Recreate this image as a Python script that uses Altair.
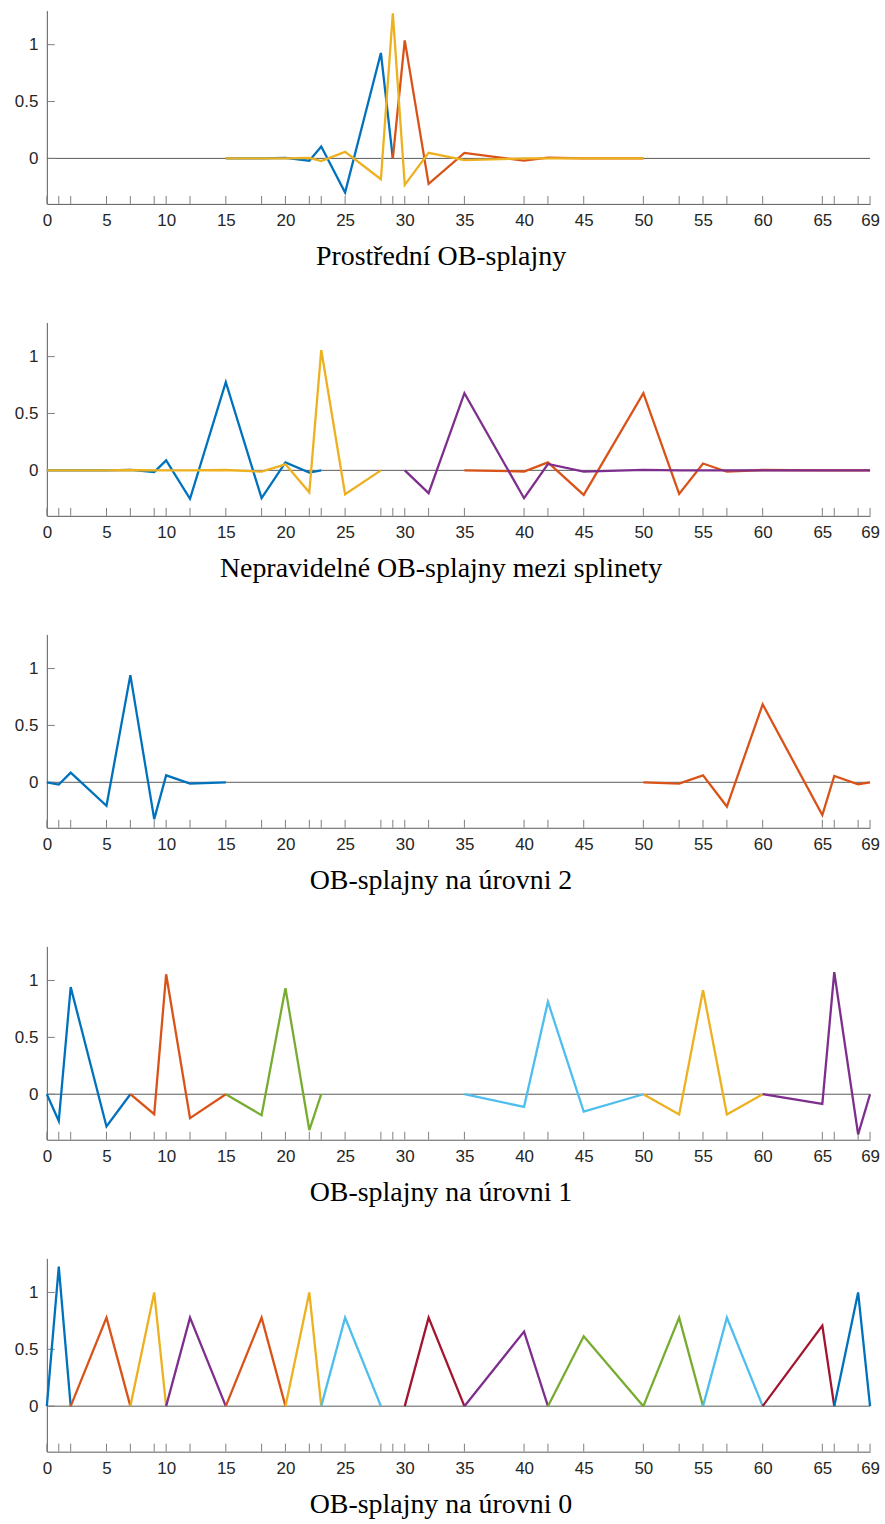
import altair as alt
import pandas as pd

# ---------------- data ----------------
KNOTS = [0, 1, 2, 5, 7, 9, 10, 12, 15, 18, 20, 22, 23, 25, 28, 29, 30, 32, 35,
         40, 42, 45, 50, 53, 55, 57, 60, 65, 66, 68, 69]
X_LABELS = [0, 5, 10, 15, 20, 25, 30, 35, 40, 45, 50, 55, 60, 65, 69]
Y_LABELS = [0, 0.5, 1]

TITLES = [
    "Prostřední OB-splajny",
    "Nepravidelné OB-splajny mezi splinety",
    "OB-splajny na úrovni 2",
    "OB-splajny na úrovni 1",
    "OB-splajny na úrovni 0",
]

COLORS = {
    "blue": "#0072BD", "red": "#D95319", "yellow": "#EDB120", "purple": "#7E2F8E",
    "green": "#77AC30", "lightblue": "#4DBEEE", "darkred": "#A2142F",
}

# panel 1: Prostřední OB-splajny
P1_BLUE_X = [15, 18, 20, 22, 23, 25, 28, 29]
P1_BLUE_Y = [0.0, 0.0, 0.005, -0.02, 0.105, -0.30, 0.927, 0.0]
P1_RED_X = [29, 30, 32, 35, 40, 42, 45, 50]
P1_RED_Y = [0.0, 1.038, -0.224, 0.049, -0.02, 0.006, 0.0, 0.0]
P1_YEL_X = [15, 18, 20, 22, 23, 25, 28, 29, 30, 32, 35, 40, 42, 45, 50]
P1_YEL_Y = [0.0, 0.0, 0.0, 0.005, -0.023, 0.058, -0.183, 1.276, -0.233, 0.049,
            -0.015, 0.0, 0.0, 0.0, 0.0]

# panel 2: Nepravidelné OB-splajny mezi splinety
P2_BLUE_X = [0, 1, 2, 5, 7, 9, 10, 12, 15, 18, 20, 22, 23]
P2_BLUE_Y = [0.0, 0.0, 0.0, 0.0, 0.005, -0.015, 0.088, -0.25, 0.775, -0.245, 0.07, -0.02, 0.0]
P2_RED_X = [35, 40, 42, 45, 50, 53, 55, 57, 60, 65, 66, 68, 69]
P2_RED_Y = [0.0, -0.01, 0.07, -0.216, 0.678, -0.208, 0.06, -0.012, 0.003, 0.0, 0.0, 0.0, 0.0]
P2_YEL_X = [0, 1, 2, 5, 7, 9, 10, 12, 15, 18, 20, 22, 23, 25, 28]
P2_YEL_Y = [0.0, 0.0, 0.0, 0.0, 0.003, 0.0, 0.0, 0.0, 0.003, -0.012, 0.053, -0.193,
            1.058, -0.21, 0.0]
P2_PUR_X = [30, 32, 35, 40, 42, 45, 50, 53, 55, 57, 60, 65, 66, 68, 69]
P2_PUR_Y = [0.0, -0.2, 0.678, -0.245, 0.056, -0.012, 0.005, 0.0, 0.0, 0.0, 0.0, 0.0,
            0.0, 0.0, 0.0]

# panel 3: OB-splajny na úrovni 2
P3_BLUE_X = [0, 1, 2, 5, 7, 9, 10, 12, 15]
P3_BLUE_Y = [0.0, -0.02, 0.085, -0.207, 0.942, -0.324, 0.061, -0.012, 0.0]
P3_RED_X = [50, 53, 55, 57, 60, 65, 66, 68, 69]
P3_RED_Y = [0.0, -0.012, 0.061, -0.213, 0.685, -0.289, 0.055, -0.017, 0.0]

# panel 4: OB-splajny na úrovni 1
P4_BLUE_X = [0, 1, 2, 5, 7]
P4_BLUE_Y = [0.0, -0.236, 0.942, -0.283, 0.0]
P4_RED_X = [7, 9, 10, 12, 15]
P4_RED_Y = [0.0, -0.175, 1.055, -0.21, 0.0]
P4_GREEN_X = [15, 18, 20, 22, 23]
P4_GREEN_Y = [0.0, -0.184, 0.933, -0.315, 0.0]
P4_LBLUE_X = [35, 40, 42, 45, 50]
P4_LBLUE_Y = [0.0, -0.111, 0.813, -0.152, 0.0]
P4_YEL_X = [50, 53, 55, 57, 60]
P4_YEL_Y = [0.0, -0.178, 0.915, -0.178, 0.0]
P4_PUR_X = [60, 65, 66, 68, 69]
P4_PUR_Y = [0.0, -0.085, 1.073, -0.353, 0.0]

# panel 5: OB-splajny na úrovni 0
P5_S1_X, P5_S1_Y = [0, 1, 2], [0.0, 1.227, 0.0]
P5_S2_X, P5_S2_Y = [2, 5, 7], [0.0, 0.778, 0.0]
P5_S3_X, P5_S3_Y = [7, 9, 10], [0.0, 1.0, 0.0]
P5_S4_X, P5_S4_Y = [10, 12, 15], [0.0, 0.778, 0.0]
P5_S5_X, P5_S5_Y = [15, 18, 20], [0.0, 0.778, 0.0]
P5_S6_X, P5_S6_Y = [20, 22, 23], [0.0, 1.0, 0.0]
P5_S7_X, P5_S7_Y = [23, 25, 28], [0.0, 0.778, 0.0]
P5_S8_X, P5_S8_Y = [30, 32, 35], [0.0, 0.778, 0.0]
P5_S9_X, P5_S9_Y = [35, 40, 42], [0.0, 0.656, 0.0]
P5_S10_X, P5_S10_Y = [42, 45, 50], [0.0, 0.615, 0.0]
P5_S11_X, P5_S11_Y = [50, 53, 55], [0.0, 0.778, 0.0]
P5_S12_X, P5_S12_Y = [55, 57, 60], [0.0, 0.778, 0.0]
P5_S13_X, P5_S13_Y = [60, 65, 66], [0.0, 0.708, 0.0]
P5_S14_X, P5_S14_Y = [66, 68, 69], [0.0, 1.0, 0.0]

PANELS = [
    [("blue", P1_BLUE_X, P1_BLUE_Y), ("red", P1_RED_X, P1_RED_Y), ("yellow", P1_YEL_X, P1_YEL_Y)],
    [("blue", P2_BLUE_X, P2_BLUE_Y), ("red", P2_RED_X, P2_RED_Y),
     ("yellow", P2_YEL_X, P2_YEL_Y), ("purple", P2_PUR_X, P2_PUR_Y)],
    [("blue", P3_BLUE_X, P3_BLUE_Y), ("red", P3_RED_X, P3_RED_Y)],
    [("blue", P4_BLUE_X, P4_BLUE_Y), ("red", P4_RED_X, P4_RED_Y), ("green", P4_GREEN_X, P4_GREEN_Y),
     ("lightblue", P4_LBLUE_X, P4_LBLUE_Y), ("yellow", P4_YEL_X, P4_YEL_Y),
     ("purple", P4_PUR_X, P4_PUR_Y)],
    [("blue", P5_S1_X, P5_S1_Y), ("red", P5_S2_X, P5_S2_Y), ("yellow", P5_S3_X, P5_S3_Y),
     ("purple", P5_S4_X, P5_S4_Y), ("red", P5_S5_X, P5_S5_Y), ("yellow", P5_S6_X, P5_S6_Y),
     ("lightblue", P5_S7_X, P5_S7_Y), ("darkred", P5_S8_X, P5_S8_Y), ("purple", P5_S9_X, P5_S9_Y),
     ("green", P5_S10_X, P5_S10_Y), ("green", P5_S11_X, P5_S11_Y),
     ("lightblue", P5_S12_X, P5_S12_Y), ("darkred", P5_S13_X, P5_S13_Y),
     ("blue", P5_S14_X, P5_S14_Y)],
]

# ---------------- chart ----------------
W, H = 826, 194
TICK = 8
AXIS_COLOR = "#5a5a5a"


def make_panel(title, series):
    xs = alt.Scale(domain=[0, 69], nice=False, zero=False)
    ys = alt.Scale(domain=[-0.4, 1.3], nice=False, zero=False)
    x_axis = alt.Axis(values=X_LABELS, format="d", ticks=False, grid=False,
                      labelFlush=False, labelOverlap=False, labelPadding=9,
                      title=title, titleX=395, titleAnchor="start", titleAlign="center",
                      titleBaseline="alphabetic", titleY=61)
    y_axis = alt.Axis(values=Y_LABELS, format="~g", ticks=False, grid=False,
                      labelPadding=9, title=None)
    X = alt.X("x:Q", scale=xs, axis=x_axis)
    Y = alt.Y("y:Q", scale=ys, axis=y_axis)

    zero = alt.Chart(pd.DataFrame({"x": [0], "x2": [69], "y": [0]})).mark_rule(
        color=AXIS_COLOR, strokeWidth=1).encode(x=X, x2="x2:Q", y=Y)
    xticks = alt.Chart(pd.DataFrame({"x": KNOTS})).mark_rule(
        color="#808080", strokeWidth=1).encode(x=X, y=alt.value(H), y2=alt.value(H - TICK))
    yticks = alt.Chart(pd.DataFrame({"y": Y_LABELS})).mark_rule(
        color="#808080", strokeWidth=1).encode(y=Y, x=alt.value(0), x2=alt.value(TICK))
    layers = [zero, xticks, yticks]
    for cname, sx, sy in series:
        df = pd.DataFrame({"x": sx, "y": sy})
        layers.append(alt.Chart(df).mark_line(color=COLORS[cname], strokeWidth=2.3,
                                              strokeJoin="miter").encode(x=X, y=Y))
    return alt.layer(*layers).properties(width=W, height=H)


panels = [make_panel(t, s) for t, s in zip(TITLES, PANELS)]

chart = alt.vconcat(*panels, spacing=52).properties(
    padding={"left": 14, "top": 6, "right": 5, "bottom": 5}
).configure_view(stroke=None).configure_axis(
    domainColor=AXIS_COLOR, domainWidth=1,
    labelFont="Liberation Sans", labelFontSize=17, labelColor="#262626",
    titleFont="Liberation Serif", titleFontSize=28, titleFontWeight="normal",
    titleColor="#000000",
)

chart.save("out.html", embed_options={"renderer": "svg", "actions": False})
